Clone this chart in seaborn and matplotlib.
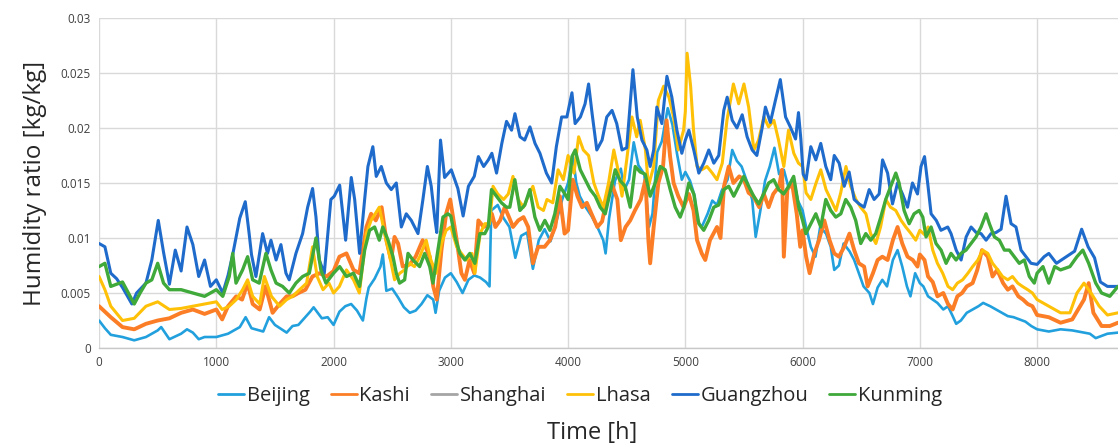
import matplotlib
matplotlib.use("Agg")
import matplotlib.pyplot as plt
import seaborn as sns
import pandas as pd

# ---------------- data (hour of year, humidity ratio kg/kg) ----------------
beijing_h = [0, 50, 100, 200, 300, 400, 500, 530, 600, 700, 750, 800, 850, 900, 1000, 1100, 1200, 1250, 1300, 1400, 1450, 1500, 1600, 1650, 1700, 1800, 1830, 1900, 1950, 2000, 2050, 2100, 2150, 2200, 2250, 2280, 2300, 2350, 2400, 2420, 2450, 2500, 2550, 2600, 2650, 2700, 2750, 2800, 2850, 2870, 2900, 2950, 3000, 3050, 3100, 3150, 3200, 3250, 3300, 3330, 3345, 3400, 3450, 3500, 3550, 3600, 3650, 3700, 3750, 3800, 3850, 3900, 3950, 4000, 4040, 4070, 4100, 4150, 4200, 4250, 4300, 4320, 4350, 4400, 4450, 4480, 4520, 4560, 4600, 4650, 4690, 4720, 4760, 4800, 4850, 4890, 4930, 4970, 5000, 5040, 5080, 5100, 5140, 5190, 5230, 5270, 5310, 5360, 5400, 5440, 5480, 5530, 5570, 5600, 5640, 5680, 5720, 5760, 5800, 5840, 5880, 5920, 5960, 6000, 6030, 6070, 6110, 6150, 6200, 6240, 6270, 6310, 6350, 6400, 6440, 6480, 6520, 6570, 6600, 6640, 6680, 6720, 6770, 6810, 6850, 6890, 6920, 6960, 7000, 7030, 7070, 7110, 7150, 7200, 7240, 7280, 7310, 7350, 7400, 7450, 7500, 7540, 7600, 7650, 7700, 7750, 7800, 7850, 7900, 7950, 8000, 8100, 8200, 8300, 8400, 8450, 8500, 8600, 8690]
beijing_v = [0.0025, 0.0018, 0.0012, 0.0010, 0.0007, 0.0010, 0.0016, 0.0019, 0.0008, 0.0013, 0.0017, 0.0014, 0.0008, 0.0010, 0.0010, 0.0013, 0.0019, 0.0028, 0.0018, 0.0015, 0.0028, 0.0021, 0.0014, 0.0020, 0.0021, 0.0033, 0.0037, 0.0027, 0.0028, 0.0021, 0.0033, 0.0038, 0.0040, 0.0034, 0.0025, 0.0045, 0.0055, 0.0063, 0.0074, 0.0085, 0.0052, 0.0054, 0.0046, 0.0037, 0.0032, 0.0034, 0.0040, 0.0048, 0.0044, 0.0032, 0.0052, 0.0064, 0.0068, 0.0060, 0.0050, 0.0062, 0.0066, 0.0064, 0.0060, 0.0056, 0.0125, 0.0130, 0.0118, 0.0110, 0.0082, 0.0102, 0.0105, 0.0072, 0.0098, 0.0108, 0.0097, 0.0115, 0.0135, 0.0150, 0.0175, 0.0150, 0.0138, 0.0128, 0.0120, 0.0110, 0.0098, 0.0086, 0.0118, 0.0152, 0.0163, 0.0144, 0.0153, 0.0187, 0.0166, 0.0158, 0.0110, 0.0122, 0.0178, 0.0188, 0.0218, 0.0203, 0.0176, 0.0153, 0.0160, 0.0152, 0.0138, 0.0116, 0.0110, 0.0122, 0.0134, 0.0130, 0.0143, 0.0153, 0.0180, 0.0170, 0.0165, 0.0150, 0.0135, 0.0101, 0.0125, 0.0152, 0.0165, 0.0182, 0.0158, 0.0162, 0.0146, 0.0155, 0.0134, 0.0125, 0.0110, 0.0092, 0.0083, 0.0110, 0.0104, 0.0092, 0.0071, 0.0075, 0.0095, 0.0088, 0.0080, 0.0068, 0.0056, 0.0050, 0.0040, 0.0055, 0.0062, 0.0056, 0.0080, 0.0089, 0.0074, 0.0056, 0.0047, 0.0068, 0.0059, 0.0056, 0.0047, 0.0044, 0.0041, 0.0035, 0.0038, 0.0029, 0.0022, 0.0025, 0.0032, 0.0035, 0.0038, 0.0041, 0.0038, 0.0035, 0.0032, 0.0029, 0.0028, 0.0026, 0.0024, 0.0020, 0.0017, 0.0015, 0.0017, 0.0016, 0.0014, 0.0013, 0.0009, 0.0013, 0.0014]

kashi_h = [0, 50, 100, 200, 300, 400, 500, 600, 700, 800, 900, 1000, 1050, 1100, 1170, 1220, 1267, 1310, 1370, 1420, 1480, 1540, 1600, 1650, 1700, 1760, 1820, 1880, 1940, 2000, 2050, 2110, 2170, 2220, 2280, 2320, 2360, 2410, 2450, 2490, 2520, 2550, 2590, 2650, 2700, 2760, 2820, 2850, 2880, 2920, 2960, 2995, 3050, 3090, 3120, 3160, 3200, 3235, 3280, 3320, 3350, 3380, 3420, 3460, 3500, 3530, 3575, 3620, 3660, 3700, 3745, 3800, 3845, 3890, 3930, 3970, 4000, 4040, 4080, 4120, 4160, 4200, 4250, 4290, 4330, 4370, 4420, 4450, 4490, 4530, 4570, 4620, 4660, 4685, 4700, 4730, 4770, 4810, 4840, 4870, 4900, 4940, 4985, 5030, 5070, 5100, 5140, 5170, 5210, 5270, 5300, 5330, 5370, 5410, 5460, 5500, 5540, 5580, 5630, 5670, 5710, 5750, 5800, 5825, 5840, 5870, 5910, 5950, 5980, 6000, 6030, 6060, 6100, 6140, 6185, 6230, 6270, 6310, 6355, 6400, 6440, 6480, 6525, 6555, 6600, 6640, 6680, 6725, 6770, 6810, 6850, 6895, 6940, 6980, 7000, 7040, 7070, 7110, 7150, 7200, 7240, 7280, 7320, 7360, 7400, 7450, 7490, 7530, 7580, 7620, 7660, 7710, 7750, 7790, 7840, 7880, 7920, 7960, 8000, 8100, 8200, 8300, 8400, 8440, 8480, 8550, 8620, 8690]
kashi_v = [0.0038, 0.0033, 0.0028, 0.0019, 0.0017, 0.0022, 0.0025, 0.0027, 0.0032, 0.0035, 0.0031, 0.0035, 0.0026, 0.0038, 0.0047, 0.0044, 0.0059, 0.0040, 0.0035, 0.0056, 0.0032, 0.0040, 0.0047, 0.0047, 0.0050, 0.0053, 0.0065, 0.0068, 0.0065, 0.0070, 0.0083, 0.0086, 0.0071, 0.0068, 0.0110, 0.0122, 0.0116, 0.0128, 0.0098, 0.0080, 0.0101, 0.0095, 0.0074, 0.0076, 0.0083, 0.0098, 0.0083, 0.0056, 0.0044, 0.0089, 0.0122, 0.0135, 0.0098, 0.0068, 0.0062, 0.0080, 0.0068, 0.0116, 0.0110, 0.0112, 0.0122, 0.0110, 0.0116, 0.0128, 0.0118, 0.0110, 0.0116, 0.0119, 0.0110, 0.0077, 0.0092, 0.0092, 0.0098, 0.0110, 0.0138, 0.0104, 0.0107, 0.0153, 0.0138, 0.0128, 0.0132, 0.0122, 0.0110, 0.0115, 0.0135, 0.0150, 0.0135, 0.0098, 0.0110, 0.0116, 0.0125, 0.0135, 0.0153, 0.0098, 0.0077, 0.0110, 0.0150, 0.0165, 0.0207, 0.0174, 0.0150, 0.0138, 0.0128, 0.0140, 0.0125, 0.0098, 0.0086, 0.0080, 0.0098, 0.0110, 0.0100, 0.0147, 0.0165, 0.0150, 0.0156, 0.0153, 0.0141, 0.0138, 0.0128, 0.0140, 0.0128, 0.0140, 0.0147, 0.0162, 0.0083, 0.0144, 0.0150, 0.0122, 0.0092, 0.0107, 0.0083, 0.0068, 0.0086, 0.0098, 0.0116, 0.0098, 0.0086, 0.0083, 0.0092, 0.0104, 0.0089, 0.0077, 0.0074, 0.0056, 0.0068, 0.0080, 0.0083, 0.0080, 0.0098, 0.0110, 0.0095, 0.0083, 0.0080, 0.0074, 0.0085, 0.0080, 0.0065, 0.0060, 0.0047, 0.0050, 0.0040, 0.0035, 0.0047, 0.0050, 0.0056, 0.0059, 0.0071, 0.0089, 0.0083, 0.0065, 0.0071, 0.0059, 0.0053, 0.0056, 0.0047, 0.0044, 0.0040, 0.0038, 0.0030, 0.0028, 0.0023, 0.0026, 0.0044, 0.0059, 0.0032, 0.0020, 0.0020, 0.0023]

shanghai_h = []
shanghai_v = []

lhasa_h = [0, 50, 100, 200, 300, 400, 500, 600, 700, 800, 900, 1000, 1050, 1110, 1170, 1224, 1267, 1310, 1370, 1410, 1470, 1540, 1600, 1650, 1710, 1770, 1821, 1860, 1910, 1960, 2000, 2050, 2110, 2170, 2220, 2280, 2320, 2390, 2430, 2480, 2520, 2565, 2605, 2650, 2690, 2735, 2790, 2830, 2875, 2920, 2960, 3000, 3050, 3090, 3135, 3180, 3205, 3250, 3290, 3330, 3360, 3400, 3450, 3490, 3530, 3575, 3620, 3660, 3700, 3745, 3790, 3820, 3870, 3915, 3960, 4000, 4050, 4090, 4130, 4175, 4220, 4260, 4300, 4345, 4390, 4420, 4460, 4500, 4545, 4585, 4615, 4660, 4685, 4730, 4770, 4815, 4860, 4900, 4940, 4985, 5000, 5015, 5045, 5070, 5100, 5140, 5185, 5230, 5270, 5315, 5355, 5410, 5455, 5500, 5540, 5585, 5625, 5670, 5710, 5755, 5795, 5840, 5880, 5925, 5965, 6000, 6030, 6070, 6115, 6155, 6200, 6240, 6285, 6325, 6370, 6410, 6455, 6495, 6540, 6580, 6625, 6665, 6710, 6750, 6795, 6840, 6880, 6925, 6965, 7000, 7040, 7070, 7110, 7150, 7195, 7240, 7280, 7320, 7365, 7410, 7450, 7495, 7535, 7580, 7620, 7665, 7705, 7750, 7790, 7835, 7875, 7920, 7960, 8000, 8100, 8200, 8280, 8340, 8400, 8460, 8530, 8600, 8690]
lhasa_v = [0.0065, 0.0053, 0.0038, 0.0025, 0.0027, 0.0038, 0.0042, 0.0035, 0.0036, 0.0038, 0.0040, 0.0042, 0.0035, 0.0038, 0.0044, 0.0053, 0.0062, 0.0047, 0.0040, 0.0065, 0.0047, 0.0038, 0.0044, 0.0047, 0.0053, 0.0059, 0.0092, 0.0065, 0.0053, 0.0059, 0.0050, 0.0056, 0.0071, 0.0062, 0.0050, 0.0104, 0.0116, 0.0128, 0.0107, 0.0083, 0.0062, 0.0068, 0.0071, 0.0077, 0.0074, 0.0083, 0.0098, 0.0080, 0.0068, 0.0095, 0.0107, 0.0110, 0.0092, 0.0086, 0.0080, 0.0086, 0.0068, 0.0104, 0.0113, 0.0113, 0.0147, 0.0140, 0.0135, 0.0140, 0.0156, 0.0135, 0.0128, 0.0138, 0.0147, 0.0128, 0.0125, 0.0135, 0.0132, 0.0162, 0.0153, 0.0175, 0.0159, 0.0192, 0.0180, 0.0175, 0.0150, 0.0138, 0.0128, 0.0150, 0.0180, 0.0165, 0.0138, 0.0171, 0.0210, 0.0192, 0.0207, 0.0180, 0.0147, 0.0165, 0.0225, 0.0238, 0.0228, 0.0210, 0.0180, 0.0198, 0.0215, 0.0268, 0.0238, 0.0198, 0.0165, 0.0162, 0.0165, 0.0159, 0.0153, 0.0168, 0.0207, 0.0240, 0.0222, 0.0240, 0.0219, 0.0180, 0.0189, 0.0210, 0.0201, 0.0207, 0.0189, 0.0165, 0.0198, 0.0177, 0.0168, 0.0165, 0.0141, 0.0135, 0.0150, 0.0162, 0.0144, 0.0135, 0.0125, 0.0141, 0.0165, 0.0147, 0.0135, 0.0128, 0.0122, 0.0104, 0.0095, 0.0110, 0.0135, 0.0128, 0.0125, 0.0116, 0.0110, 0.0104, 0.0098, 0.0107, 0.0103, 0.0110, 0.0089, 0.0077, 0.0068, 0.0056, 0.0053, 0.0059, 0.0062, 0.0068, 0.0074, 0.0080, 0.0089, 0.0086, 0.0077, 0.0071, 0.0065, 0.0062, 0.0065, 0.0059, 0.0056, 0.0053, 0.0050, 0.0044, 0.0038, 0.0032, 0.0032, 0.0050, 0.0059, 0.0050, 0.0038, 0.0030, 0.0032]

guangzhou_h = [0, 50, 100, 150, 200, 280, 320, 400, 450, 505, 550, 600, 650, 700, 750, 800, 850, 900, 950, 1000, 1055, 1100, 1140, 1200, 1247, 1280, 1300, 1338, 1395, 1437, 1466, 1510, 1551, 1594, 1622, 1679, 1736, 1779, 1821, 1850, 1878, 1921, 1977, 2006, 2052, 2103, 2151, 2180, 2222, 2265, 2293, 2335, 2364, 2407, 2450, 2492, 2535, 2578, 2620, 2663, 2720, 2762, 2800, 2833, 2862, 2880, 2912, 2947, 3004, 3060, 3105, 3150, 3200, 3235, 3280, 3320, 3350, 3390, 3435, 3475, 3518, 3547, 3590, 3630, 3675, 3718, 3760, 3815, 3860, 3900, 3945, 3990, 4033, 4060, 4105, 4145, 4175, 4205, 4245, 4290, 4330, 4375, 4415, 4460, 4500, 4540, 4553, 4590, 4630, 4672, 4700, 4730, 4757, 4800, 4843, 4885, 4928, 4970, 5000, 5030, 5072, 5115, 5157, 5200, 5243, 5285, 5328, 5357, 5400, 5440, 5485, 5527, 5570, 5610, 5655, 5683, 5725, 5768, 5810, 5855, 5895, 5940, 5965, 5985, 6005, 6030, 6070, 6113, 6155, 6198, 6240, 6270, 6312, 6355, 6397, 6440, 6482, 6525, 6568, 6610, 6653, 6682, 6725, 6767, 6810, 6852, 6895, 6937, 6980, 7010, 7040, 7070, 7096, 7140, 7180, 7238, 7266, 7310, 7352, 7395, 7437, 7480, 7522, 7565, 7607, 7650, 7693, 7735, 7778, 7820, 7863, 7906, 7948, 8000, 8060, 8100, 8165, 8250, 8320, 8380, 8435, 8490, 8540, 8600, 8690]
guangzhou_v = [0.0095, 0.0092, 0.0068, 0.0063, 0.0055, 0.0040, 0.0050, 0.0059, 0.0080, 0.0116, 0.0087, 0.0058, 0.0089, 0.0070, 0.0110, 0.0094, 0.0065, 0.0080, 0.0056, 0.0062, 0.0050, 0.0066, 0.0085, 0.0118, 0.0133, 0.0104, 0.0085, 0.0065, 0.0104, 0.0086, 0.0098, 0.0080, 0.0094, 0.0068, 0.0062, 0.0086, 0.0104, 0.0128, 0.0145, 0.0119, 0.0080, 0.0068, 0.0135, 0.0138, 0.0148, 0.0098, 0.0155, 0.0135, 0.0086, 0.0135, 0.0165, 0.0183, 0.0156, 0.0165, 0.0150, 0.0144, 0.0150, 0.0110, 0.0122, 0.0116, 0.0104, 0.0135, 0.0165, 0.0147, 0.0119, 0.0105, 0.0189, 0.0155, 0.0162, 0.0145, 0.0120, 0.0147, 0.0156, 0.0174, 0.0165, 0.0171, 0.0177, 0.0159, 0.0186, 0.0206, 0.0198, 0.0213, 0.0192, 0.0189, 0.0201, 0.0186, 0.0177, 0.0159, 0.0150, 0.0183, 0.0210, 0.0210, 0.0232, 0.0204, 0.0210, 0.0222, 0.0240, 0.0213, 0.0180, 0.0189, 0.0210, 0.0216, 0.0204, 0.0180, 0.0182, 0.0235, 0.0253, 0.0210, 0.0189, 0.0180, 0.0165, 0.0180, 0.0219, 0.0204, 0.0247, 0.0228, 0.0198, 0.0177, 0.0189, 0.0198, 0.0180, 0.0159, 0.0168, 0.0180, 0.0168, 0.0175, 0.0216, 0.0228, 0.0207, 0.0200, 0.0212, 0.0192, 0.0180, 0.0175, 0.0200, 0.0219, 0.0205, 0.0225, 0.0244, 0.0210, 0.0201, 0.0190, 0.0214, 0.0190, 0.0158, 0.0153, 0.0183, 0.0171, 0.0186, 0.0165, 0.0153, 0.0175, 0.0168, 0.0147, 0.0160, 0.0135, 0.0131, 0.0128, 0.0144, 0.0135, 0.0140, 0.0171, 0.0159, 0.0131, 0.0150, 0.0140, 0.0128, 0.0150, 0.0140, 0.0165, 0.0174, 0.0147, 0.0122, 0.0116, 0.0107, 0.0110, 0.0104, 0.0089, 0.0080, 0.0101, 0.0110, 0.0105, 0.0104, 0.0098, 0.0104, 0.0105, 0.0108, 0.0138, 0.0113, 0.0110, 0.0089, 0.0083, 0.0077, 0.0076, 0.0083, 0.0086, 0.0077, 0.0083, 0.0088, 0.0108, 0.0092, 0.0082, 0.0060, 0.0056, 0.0056]

kunming_h = [0, 50, 100, 200, 300, 350, 400, 450, 500, 550, 600, 700, 800, 900, 1000, 1055, 1110, 1140, 1168, 1224, 1267, 1310, 1366, 1423, 1466, 1510, 1565, 1622, 1679, 1736, 1793, 1850, 1892, 1935, 2000, 2052, 2110, 2170, 2222, 2265, 2307, 2350, 2390, 2420, 2465, 2507, 2535, 2563, 2606, 2635, 2677, 2734, 2777, 2820, 2848, 2890, 2933, 2975, 3000, 3035, 3077, 3120, 3162, 3205, 3248, 3290, 3319, 3347, 3390, 3432, 3475, 3503, 3546, 3589, 3631, 3674, 3717, 3759, 3802, 3845, 3887, 3930, 3973, 4000, 4033, 4061, 4104, 4146, 4189, 4232, 4274, 4317, 4360, 4402, 4445, 4487, 4530, 4573, 4615, 4658, 4700, 4743, 4786, 4828, 4871, 4914, 4956, 4987, 5030, 5072, 5115, 5157, 5200, 5243, 5285, 5328, 5370, 5413, 5455, 5498, 5540, 5583, 5626, 5668, 5711, 5754, 5796, 5839, 5881, 5924, 5967, 6000, 6028, 6070, 6113, 6155, 6198, 6240, 6283, 6326, 6368, 6411, 6453, 6496, 6539, 6581, 6624, 6667, 6709, 6752, 6795, 6823, 6866, 6909, 6951, 6994, 7025, 7053, 7096, 7138, 7181, 7224, 7266, 7309, 7351, 7394, 7437, 7479, 7522, 7565, 7593, 7636, 7678, 7721, 7763, 7806, 7848, 7891, 7934, 7976, 8000, 8050, 8100, 8150, 8200, 8280, 8340, 8390, 8440, 8500, 8550, 8620, 8690]
kunming_v = [0.0074, 0.0077, 0.0056, 0.0060, 0.0040, 0.0050, 0.0059, 0.0062, 0.0077, 0.0059, 0.0053, 0.0053, 0.0050, 0.0047, 0.0053, 0.0047, 0.0065, 0.0086, 0.0059, 0.0071, 0.0083, 0.0062, 0.0059, 0.0086, 0.0071, 0.0059, 0.0056, 0.0050, 0.0059, 0.0065, 0.0068, 0.0100, 0.0071, 0.0059, 0.0068, 0.0074, 0.0065, 0.0068, 0.0056, 0.0089, 0.0107, 0.0110, 0.0098, 0.0110, 0.0098, 0.0083, 0.0068, 0.0059, 0.0062, 0.0086, 0.0080, 0.0074, 0.0086, 0.0074, 0.0059, 0.0089, 0.0119, 0.0122, 0.0120, 0.0101, 0.0086, 0.0080, 0.0086, 0.0077, 0.0104, 0.0104, 0.0110, 0.0144, 0.0138, 0.0132, 0.0128, 0.0128, 0.0153, 0.0125, 0.0130, 0.0144, 0.0119, 0.0107, 0.0116, 0.0107, 0.0122, 0.0147, 0.0140, 0.0135, 0.0174, 0.0180, 0.0162, 0.0153, 0.0144, 0.0138, 0.0128, 0.0122, 0.0142, 0.0162, 0.0152, 0.0147, 0.0128, 0.0165, 0.0160, 0.0158, 0.0138, 0.0150, 0.0165, 0.0162, 0.0144, 0.0128, 0.0119, 0.0128, 0.0150, 0.0140, 0.0113, 0.0107, 0.0116, 0.0128, 0.0130, 0.0144, 0.0147, 0.0138, 0.0147, 0.0156, 0.0147, 0.0138, 0.0131, 0.0140, 0.0150, 0.0153, 0.0144, 0.0140, 0.0147, 0.0156, 0.0128, 0.0116, 0.0104, 0.0113, 0.0122, 0.0110, 0.0135, 0.0125, 0.0119, 0.0122, 0.0135, 0.0128, 0.0116, 0.0095, 0.0104, 0.0098, 0.0104, 0.0119, 0.0135, 0.0147, 0.0159, 0.0150, 0.0125, 0.0113, 0.0122, 0.0125, 0.0119, 0.0101, 0.0110, 0.0095, 0.0089, 0.0077, 0.0086, 0.0080, 0.0086, 0.0089, 0.0095, 0.0101, 0.0110, 0.0122, 0.0113, 0.0101, 0.0098, 0.0089, 0.0089, 0.0083, 0.0077, 0.0080, 0.0065, 0.0059, 0.0068, 0.0074, 0.0059, 0.0074, 0.0071, 0.0074, 0.0083, 0.0089, 0.0077, 0.0059, 0.0050, 0.0047, 0.0056]

cities = ["Beijing", "Kashi", "Shanghai", "Lhasa", "Guangzhou", "Kunming"]
hours = [beijing_h, kashi_h, shanghai_h, lhasa_h, guangzhou_h, kunming_h]
values = [beijing_v, kashi_v, shanghai_v, lhasa_v, guangzhou_v, kunming_v]
x_ticks = [0, 1000, 2000, 3000, 4000, 5000, 6000, 7000, 8000]
y_ticks = [0, 0.005, 0.01, 0.015, 0.02, 0.025, 0.03]
y_tick_labels = ["0", "0.005", "0.01", "0.015", "0.02", "0.025", "0.03"]

# ---------------- style ----------------
colors = {"Beijing": "#21A0DD", "Kashi": "#FB7E26", "Shanghai": "#A5A5A5",
          "Lhasa": "#FFC107", "Guangzhou": "#1F6BCB", "Kunming": "#3FA93A"}
widths = {"Beijing": 1.9, "Kashi": 2.8, "Shanghai": 1.9,
          "Lhasa": 2.2, "Guangzhou": 2.2, "Kunming": 2.4}

sns.set_theme(style="whitegrid")
plt.rcParams["font.family"] = ["Open Sans", "DejaVu Sans"]

fig = plt.figure(figsize=(11.18, 4.46), dpi=100)
ax = fig.add_axes([0.0886, 0.2197, 0.9114, 0.74])

for city, h, v in zip(cities, hours, values):
    if len(h) == 0:
        ax.plot([], [], color=colors[city], lw=2.0, label=city)
        continue
    df = pd.DataFrame({"h": h, "v": v})
    sns.lineplot(data=df, x="h", y="v", ax=ax, color=colors[city],
                 lw=widths[city], label=city, estimator=None)

ax.set_xlim(0, 8690)
ax.set_ylim(0, 0.03)
ax.set_xticks(x_ticks)
ax.set_xticklabels([str(t) for t in x_ticks], fontsize=8.5)
ax.set_yticks(y_ticks)
ax.set_yticklabels(y_tick_labels, fontsize=8.5)
ax.grid(True, color="#D9D9D9", lw=1.0)
for s in ["top", "right", "left"]:
    ax.spines[s].set_visible(False)
ax.spines["bottom"].set_color("#C8C8C8")
ax.spines["bottom"].set_linewidth(1.0)
ax.tick_params(axis="both", length=0, pad=6, colors="#404040")

ax.set_ylabel("Humidity ratio [kg/kg]", fontsize=17.5, color="#262626", labelpad=10)
ax.set_xlabel("Time [h]", fontsize=17, color="#262626")
ax.xaxis.set_label_coords(0.484, -0.22)

leg = ax.legend(loc="upper center", bbox_to_anchor=(0.472, -0.06), ncol=6,
                frameon=False, fontsize=14.5, handlelength=1.3, handletextpad=0.12,
                columnspacing=1.05)
for line in leg.get_lines():
    line.set_linewidth(2.0)
for t in leg.get_texts():
    t.set_color("#262626")

fig.savefig("out.png", dpi=100)
